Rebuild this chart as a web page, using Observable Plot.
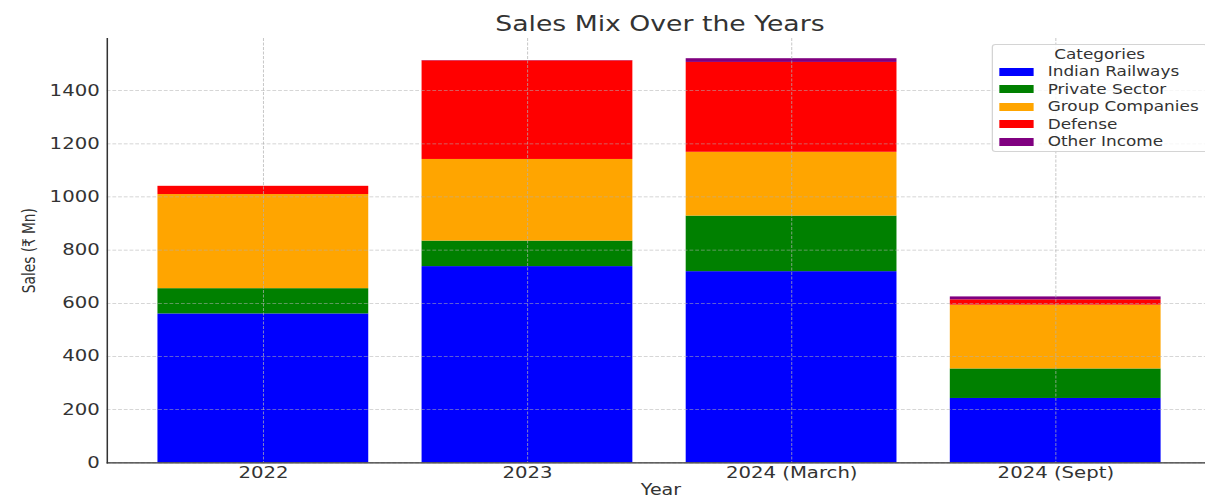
<!DOCTYPE html>
<html><head><meta charset="utf-8">
<script src="https://cdn.jsdelivr.net/npm/d3@7"></script>
<script src="https://cdn.jsdelivr.net/npm/@observablehq/plot@0.6"></script>
<style>
html,body{margin:0;padding:0;background:#fff;overflow:hidden;}
#wrap{position:relative;width:949px;height:497px;transform:scaleX(1.2698);transform-origin:0 0;font-family:"DejaVu Sans",sans-serif;color:#333;}
#title{position:absolute;left:219.7px;top:14px;width:600px;text-align:center;font-size:21px;line-height:21px;white-space:nowrap;}
#chart{position:absolute;left:0;top:36px;}
#legend{position:absolute;left:781px;top:44px;width:170px;height:108px;border:1px solid #d4d4d4;border-radius:3px;background:rgba(255,255,255,0.8);font-size:13.3px;box-sizing:border-box;}
#legend .lt{position:absolute;left:0;width:100%;top:0;height:17.5px;line-height:17.5px;text-align:center;}
#legend .row{position:absolute;left:0;height:17.5px;display:flex;align-items:center;white-space:nowrap;}
#legend .sw{width:27.6px;height:8px;margin-left:4.5px;margin-right:11px;}
</style>
</head><body>
<div id="wrap">
  <div id="title">Sales Mix Over the Years</div>
  <div id="chart"></div>
  <div id="legend"></div>
</div>
<script>
const years = ["2022", "2023", "2024 (March)", "2024 (Sept)"];
const categories = ["Indian Railways", "Private Sector", "Group Companies", "Defense", "Other Income"];
const colors = ["#0000ff", "#008000", "#ffa500", "#ff0000", "#800080"];
const indianRailways = [560, 738, 719, 242];
const privateSector  = [95, 96, 209, 111];
const groupCompanies = [354, 307, 240, 240];
const defense        = [31, 371, 338, 20];
const otherIncome    = [0, 1, 14, 11];
const yTicks = [0, 200, 400, 600, 800, 1000, 1200, 1400];

const series = [indianRailways, privateSector, groupCompanies, defense, otherIncome];
const rows = [];
years.forEach((yr, i) => {
  categories.forEach((c, j) => rows.push({year: yr, category: c, value: series[j][i]}));
});

const gridStyle = {stroke: "#b0b0b0", strokeOpacity: 0.7, strokeWidth: 0.8, strokeDasharray: "3,1.5"};

const chart = Plot.plot({
  width: 949,
  height: 461,
  marginTop: 2,
  marginBottom: 34.7,
  marginLeft: 84,
  marginRight: 0,
  style: {fontFamily: "DejaVu Sans, sans-serif", fontSize: "15.5px", color: "#333", background: "transparent", overflow: "visible"},
  x: {domain: years, range: [84, 955], paddingInner: 0.2, paddingOuter: 0.19},
  y: {domain: [0, 1596]},
  color: {domain: categories, range: colors},
  marks: [
    Plot.barY(rows, {x: "year", y: "value", fill: "category", order: categories, inset: 0}),
    Plot.gridX(gridStyle),
    Plot.gridY(yTicks, gridStyle),
    Plot.ruleY([0], {stroke: "#333", strokeWidth: 1.2}),
    Plot.frame({anchor: "left", stroke: "#333", strokeWidth: 1.2}),
    Plot.axisX({tickSize: 0, tickPadding: 4, label: null, fontSize: 15.5}),
    Plot.axisY(yTicks, {tickSize: 0, tickPadding: 6, label: null, fontSize: 15.5, tickFormat: d => String(d)}),
    Plot.text(["Year"], {text: d => d, frameAnchor: "bottom", dx: 3.5, dy: 27.5, fontSize: 15, lineAnchor: "middle", textAnchor: "middle"}),
    Plot.text(["Sales (₹ Mn)"], {text: d => d, frameAnchor: "left", dx: -61, rotate: -90, fontSize: 13.7, lineAnchor: "middle", textAnchor: "middle"})
  ]
});
document.getElementById("chart").appendChild(chart);

const leg = document.getElementById("legend");
const t = document.createElement("div");
t.className = "lt"; t.style.top = "0.5px"; t.textContent = "Categories";
leg.appendChild(t);
categories.forEach((c, j) => {
  const r = document.createElement("div");
  r.className = "row";
  r.style.top = (18.2 + j * 17.5) + "px";
  const sw = document.createElement("div");
  sw.className = "sw"; sw.style.background = colors[j];
  const lab = document.createElement("span");
  lab.textContent = c;
  r.appendChild(sw); r.appendChild(lab);
  leg.appendChild(r);
});
</script>
</body></html>
